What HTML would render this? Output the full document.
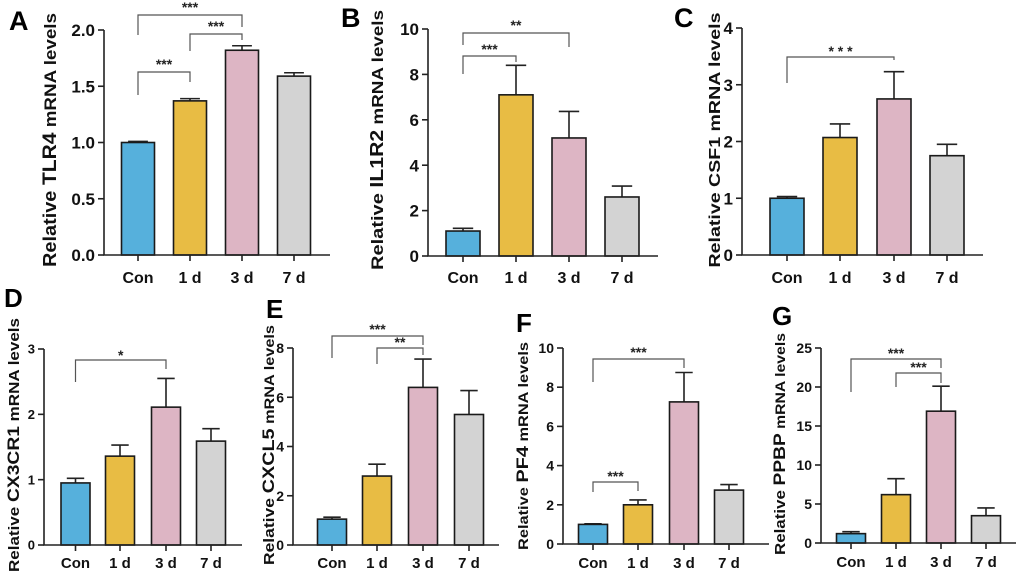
<!DOCTYPE html>
<html><head><meta charset="utf-8"><style>
html,body{margin:0;padding:0;background:#fff;}
svg{display:block;font-family:"Liberation Sans",Arial,sans-serif;}
</style></head><body>
<svg id="fig" width="1020" height="577" viewBox="0 0 1020 577" xmlns="http://www.w3.org/2000/svg"></svg>
<script>
const categories = ["Con","1 d","3 d","7 d"];
const colors = ["#56b0dc","#e8bc44","#ddb5c4","#d3d3d3"];
const valuesA = [1.0,1.37,1.82,1.59];   const errorsA = [0.01,0.02,0.04,0.03];
const ticksA = [0,0.5,1.0,1.5,2.0];      const tickLabelsA = ["0.0","0.5","1.0","1.5","2.0"];
const valuesB = [1.1,7.1,5.2,2.6];       const errorsB = [0.12,1.3,1.17,0.48];
const ticksB = [0,2,4,6,8,10];
const valuesC = [1.0,2.07,2.75,1.75];    const errorsC = [0.03,0.24,0.48,0.2];
const ticksC = [0,1,2,3,4];
const valuesD = [0.95,1.36,2.11,1.59];   const errorsD = [0.07,0.17,0.44,0.19];
const ticksD = [0,1,2,3];
const valuesE = [1.05,2.8,6.4,5.3];      const errorsE = [0.08,0.48,1.15,0.97];
const ticksE = [0,2,4,6,8];
const valuesF = [1.0,2.0,7.25,2.75];     const errorsF = [0.03,0.25,1.5,0.28];
const ticksF = [0,2,4,6,8,10];
const valuesG = [1.2,6.2,16.9,3.5];      const errorsG = [0.25,2.05,3.2,1.0];
const ticksG = [0,5,10,15,20,25];

const svg = document.getElementById('fig');
const NS = "http://www.w3.org/2000/svg";
function mk(tag, attrs, parent){const e=document.createElementNS(NS,tag);for(const k in attrs)e.setAttribute(k,attrs[k]);(parent||svg).appendChild(e);return e;}

const panels = [
 {id:"a",letter:"A",lx:9,ly:30,ls:27,ax:104,y0:255,yt:30,xend:330,cx:[138,190,242,294],bw:33,vals:valuesA,errs:errorsA,ticks:ticksA,tl:tickLabelsA,tfs:17,xfs:16,xb:283,
  title:["Relative ","TLR4"," mRNA  levels"],tx:50,tcy:140,tlen:254,tfsz:[18,19,17],
  br:[{i:0,j:2,top:15,l:35,r:27,s:"***",sy:12},{i:0,j:1,top:72,l:95,r:82,s:"***",sy:69},{i:1,j:2,top:34,l:51,r:40,s:"***",sy:31}]},
 {id:"b",letter:"B",lx:341,ly:27,ls:27,ax:428,y0:256,yt:29,xend:658,cx:[463,516,569,622],bw:34,vals:valuesB,errs:errorsB,ticks:ticksB,tfs:17,xfs:16,xb:283,
  title:["Relative ","IL1R2"," mRNA  levels"],tx:377,tcy:140,tlen:260,tfsz:[17,18,16],
  br:[{i:0,j:2,top:33,l:45,r:47,s:"**",sy:30},{i:0,j:1,top:56,l:74,r:62,s:"***",sy:54}]},
 {id:"c",letter:"C",lx:674,ly:27,ls:27,ax:742,y0:255,yt:28,xend:983,cx:[787,840,894,947],bw:34,vals:valuesC,errs:errorsC,ticks:ticksC,tfs:17,xfs:16,xb:283,
  title:["Relative  ","CSF1"," mRNA  levels"],tx:714,tcy:140,tlen:255,tfsz:[16,16,16],
  br:[{i:0,j:2,top:57,l:83,r:60,s:"* * *",sy:56}]},
 {id:"d",letter:"D",lx:4,ly:307,ls:26,ax:44,y0:545,yt:349,xend:242,cx:[75.5,120,166,211],bw:29,vals:valuesD,errs:errorsD,ticks:ticksD,tfs:13,xfs:15,xb:568,
  title:["Relative  ","CX3CR1"," mRNA  levels"],tx:13,tcy:445,tlen:254,tfsz:[15,17,15],
  br:[{i:0,j:2,top:360,l:382,r:369,s:"*",sy:360}]},
 {id:"e",letter:"E",lx:266,ly:318,ls:26,ax:293,y0:545,yt:348,xend:499,cx:[332,377,423,469],bw:29,vals:valuesE,errs:errorsE,ticks:ticksE,tfs:14,xfs:15,xb:568,
  title:["Relative ","CXCL5"," mRNA  levels"],tx:268,tcy:445,tlen:240,tfsz:[15,17,14],
  br:[{i:0,j:2,top:336,l:358,r:345,s:"***",sy:334},{i:1,j:2,top:348,l:364,r:355,s:"**",sy:347}]},
 {id:"f",letter:"F",lx:516,ly:332,ls:26,ax:563,y0:544,yt:348,xend:769,cx:[593,638,684,729],bw:29,vals:valuesF,errs:errorsF,ticks:ticksF,tfs:14,xfs:15,xb:568,
  title:["Relative ","PF4"," mRNA  levels"],tx:522,tcy:446,tlen:208,tfsz:[14,17,14],
  br:[{i:0,j:2,top:359,l:382,r:368,s:"***",sy:357},{i:0,j:1,top:482,l:492,r:491,s:"***",sy:481}]},
 {id:"g",letter:"G",lx:772,ly:325,ls:26,ax:821,y0:543,yt:348,xend:1016,cx:[851,896,941,986],bw:29,vals:valuesG,errs:errorsG,ticks:ticksG,tfs:14,xfs:15,xb:567,
  title:["Relative ","PPBP"," mRNA  levels"],tx:779,tcy:444,tlen:222,tfsz:[15,17,14],
  br:[{i:0,j:2,top:359,l:392,r:368,s:"***",sy:358},{i:1,j:2,top:373,l:387,r:383,s:"***",sy:372}]}
];

panels.forEach(p=>{
  const g = mk('g',{});
  
  
  const maxT = p.ticks[p.ticks.length-1];
  const y = v => p.y0 - (v/maxT)*(p.y0-p.yt);
  const L = mk('text',{x:p.lx,y:p.ly,'font-size':p.ls,'font-weight':'bold'},g);
  L.textContent=p.letter;
  
  
  p.vals.forEach((v,i)=>{
    const e = p.errs[i], cx=p.cx[i];
    const eb = mk('path',{d:`M${cx} ${y(v)} V${y(v+e)} M${cx-p.bw*0.3} ${y(v+e)} H${cx+p.bw*0.3}`,stroke:'#222','stroke-width':1.6,fill:'none'},g);
    
    
    const r = mk('rect',{x:cx-p.bw/2,y:y(v),width:p.bw,height:p.y0-y(v),fill:colors[i],stroke:'#1a1a1a','stroke-width':1.6},g);
    
    
    mk('line',{x1:cx,x2:cx,y1:p.y0,y2:p.y0+6,stroke:'#222','stroke-width':1.6},g);
    const xl = mk('text',{x:cx,y:p.xb,'font-size':p.xfs,'font-weight':'bold','text-anchor':'middle',fill:'#111'},g);
    xl.textContent=categories[i];
    
    
  });
  const ax = mk('path',{d:`M${p.ax} ${p.yt} V${p.y0} H${p.xend}`,stroke:'#222','stroke-width':1.6,fill:'none'},g);
  
  
  p.ticks.forEach((t,k)=>{
    mk('line',{x1:p.ax-6,x2:p.ax,y1:y(t),y2:y(t),stroke:'#222','stroke-width':1.6},g);
    const tl = mk('text',{x:p.ax-9,y:y(t)+p.tfs*0.36,'font-size':p.tfs,'font-weight':'bold','text-anchor':'end',fill:'#111'},g);
    tl.textContent = p.tl ? p.tl[k] : String(t);
    
    
  });
  const tt = mk('text',{x:0,y:0,'font-weight':'bold','text-anchor':'middle',transform:`translate(${p.tx+6},${p.tcy}) rotate(-90)`,textLength:p.tlen,lengthAdjust:'spacingAndGlyphs',fill:'#111'},g);
  
  
  p.title.forEach((s,k)=>{const ts=mk('tspan',{'font-size':p.tfsz[k]},tt);ts.textContent=s;});
  p.br.forEach((b,k)=>{
    const x1=p.cx[b.i], x2=p.cx[b.j];
    const bp = mk('path',{d:`M${x1} ${b.l} V${b.top} H${x2} V${b.r}`,stroke:'#555','stroke-width':1.2,fill:'none'},g);
    
    
    const st = mk('text',{x:(x1+x2)/2,y:b.sy,'font-size':14,'font-weight':'bold','text-anchor':'middle',fill:'#222'},g);
    st.textContent=b.s;
    
    
  });
});
</script>
</body></html>
